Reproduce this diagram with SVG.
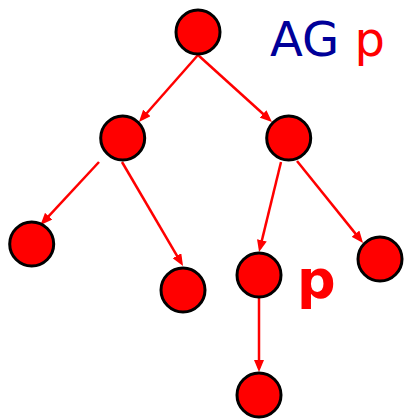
<svg xmlns="http://www.w3.org/2000/svg" width="405" height="420" viewBox="0 0 405 420">
<style>
.node{fill:#ff0000;stroke:#000000;stroke-width:3}
.edge{stroke:#ff0000;stroke-width:2.5;fill:none}
.lbl{font-family:"DejaVu Sans","Verdana",sans-serif}
</style>
<defs>
<marker id="arr" viewBox="0 0 12 10" refX="8" refY="5" markerWidth="12" markerHeight="10" markerUnits="userSpaceOnUse" orient="auto">
<path d="M0,0 L12,5 L0,10 Z" fill="#ff0000"/>
</marker>
</defs>
<rect width="405" height="420" fill="#ffffff"/>
<g id="connectors">
<line class="edge" x1="198" y1="55" x2="141.6" y2="119" marker-end="url(#arr)"/>
<line class="edge" x1="198" y1="55" x2="269" y2="119.3" marker-end="url(#arr)"/>
<line class="edge" x1="99" y1="162" x2="43.2" y2="222.1" marker-end="url(#arr)"/>
<line class="edge" x1="122" y1="162" x2="181" y2="262.6" marker-end="url(#arr)"/>
<line class="edge" x1="281" y1="162" x2="260" y2="248.1" marker-end="url(#arr)"/>
<line class="edge" x1="297" y1="161" x2="360.5" y2="239.9" marker-end="url(#arr)"/>
<line class="edge" x1="259" y1="298" x2="259" y2="368" marker-end="url(#arr)"/>
</g>
<g id="n-root"><circle class="node" cx="198" cy="32" r="22"/></g>
<g id="n-left"><circle class="node" cx="122.7" cy="138" r="22"/></g>
<g id="n-right"><circle class="node" cx="288.7" cy="138" r="22"/></g>
<g id="n-ll"><circle class="node" cx="31.7" cy="244" r="22"/></g>
<g id="n-lr"><circle class="node" cx="183" cy="290" r="22"/></g>
<g id="n-p"><circle class="node" cx="259" cy="275" r="22"/></g>
<g id="n-rr"><circle class="node" cx="380" cy="259" r="22"/></g>
<g id="n-bottom"><circle class="node" cx="259" cy="395" r="22"/></g>
<g id="title"><text class="lbl" x="270" y="56" font-size="48"><tspan fill="#000099">AG</tspan><tspan fill="#ff0000"> p</tspan></text></g>
<g id="p-label"><text class="lbl" x="297" y="298" font-size="54" font-weight="bold" fill="#ff0000">p</text></g>
</svg>
